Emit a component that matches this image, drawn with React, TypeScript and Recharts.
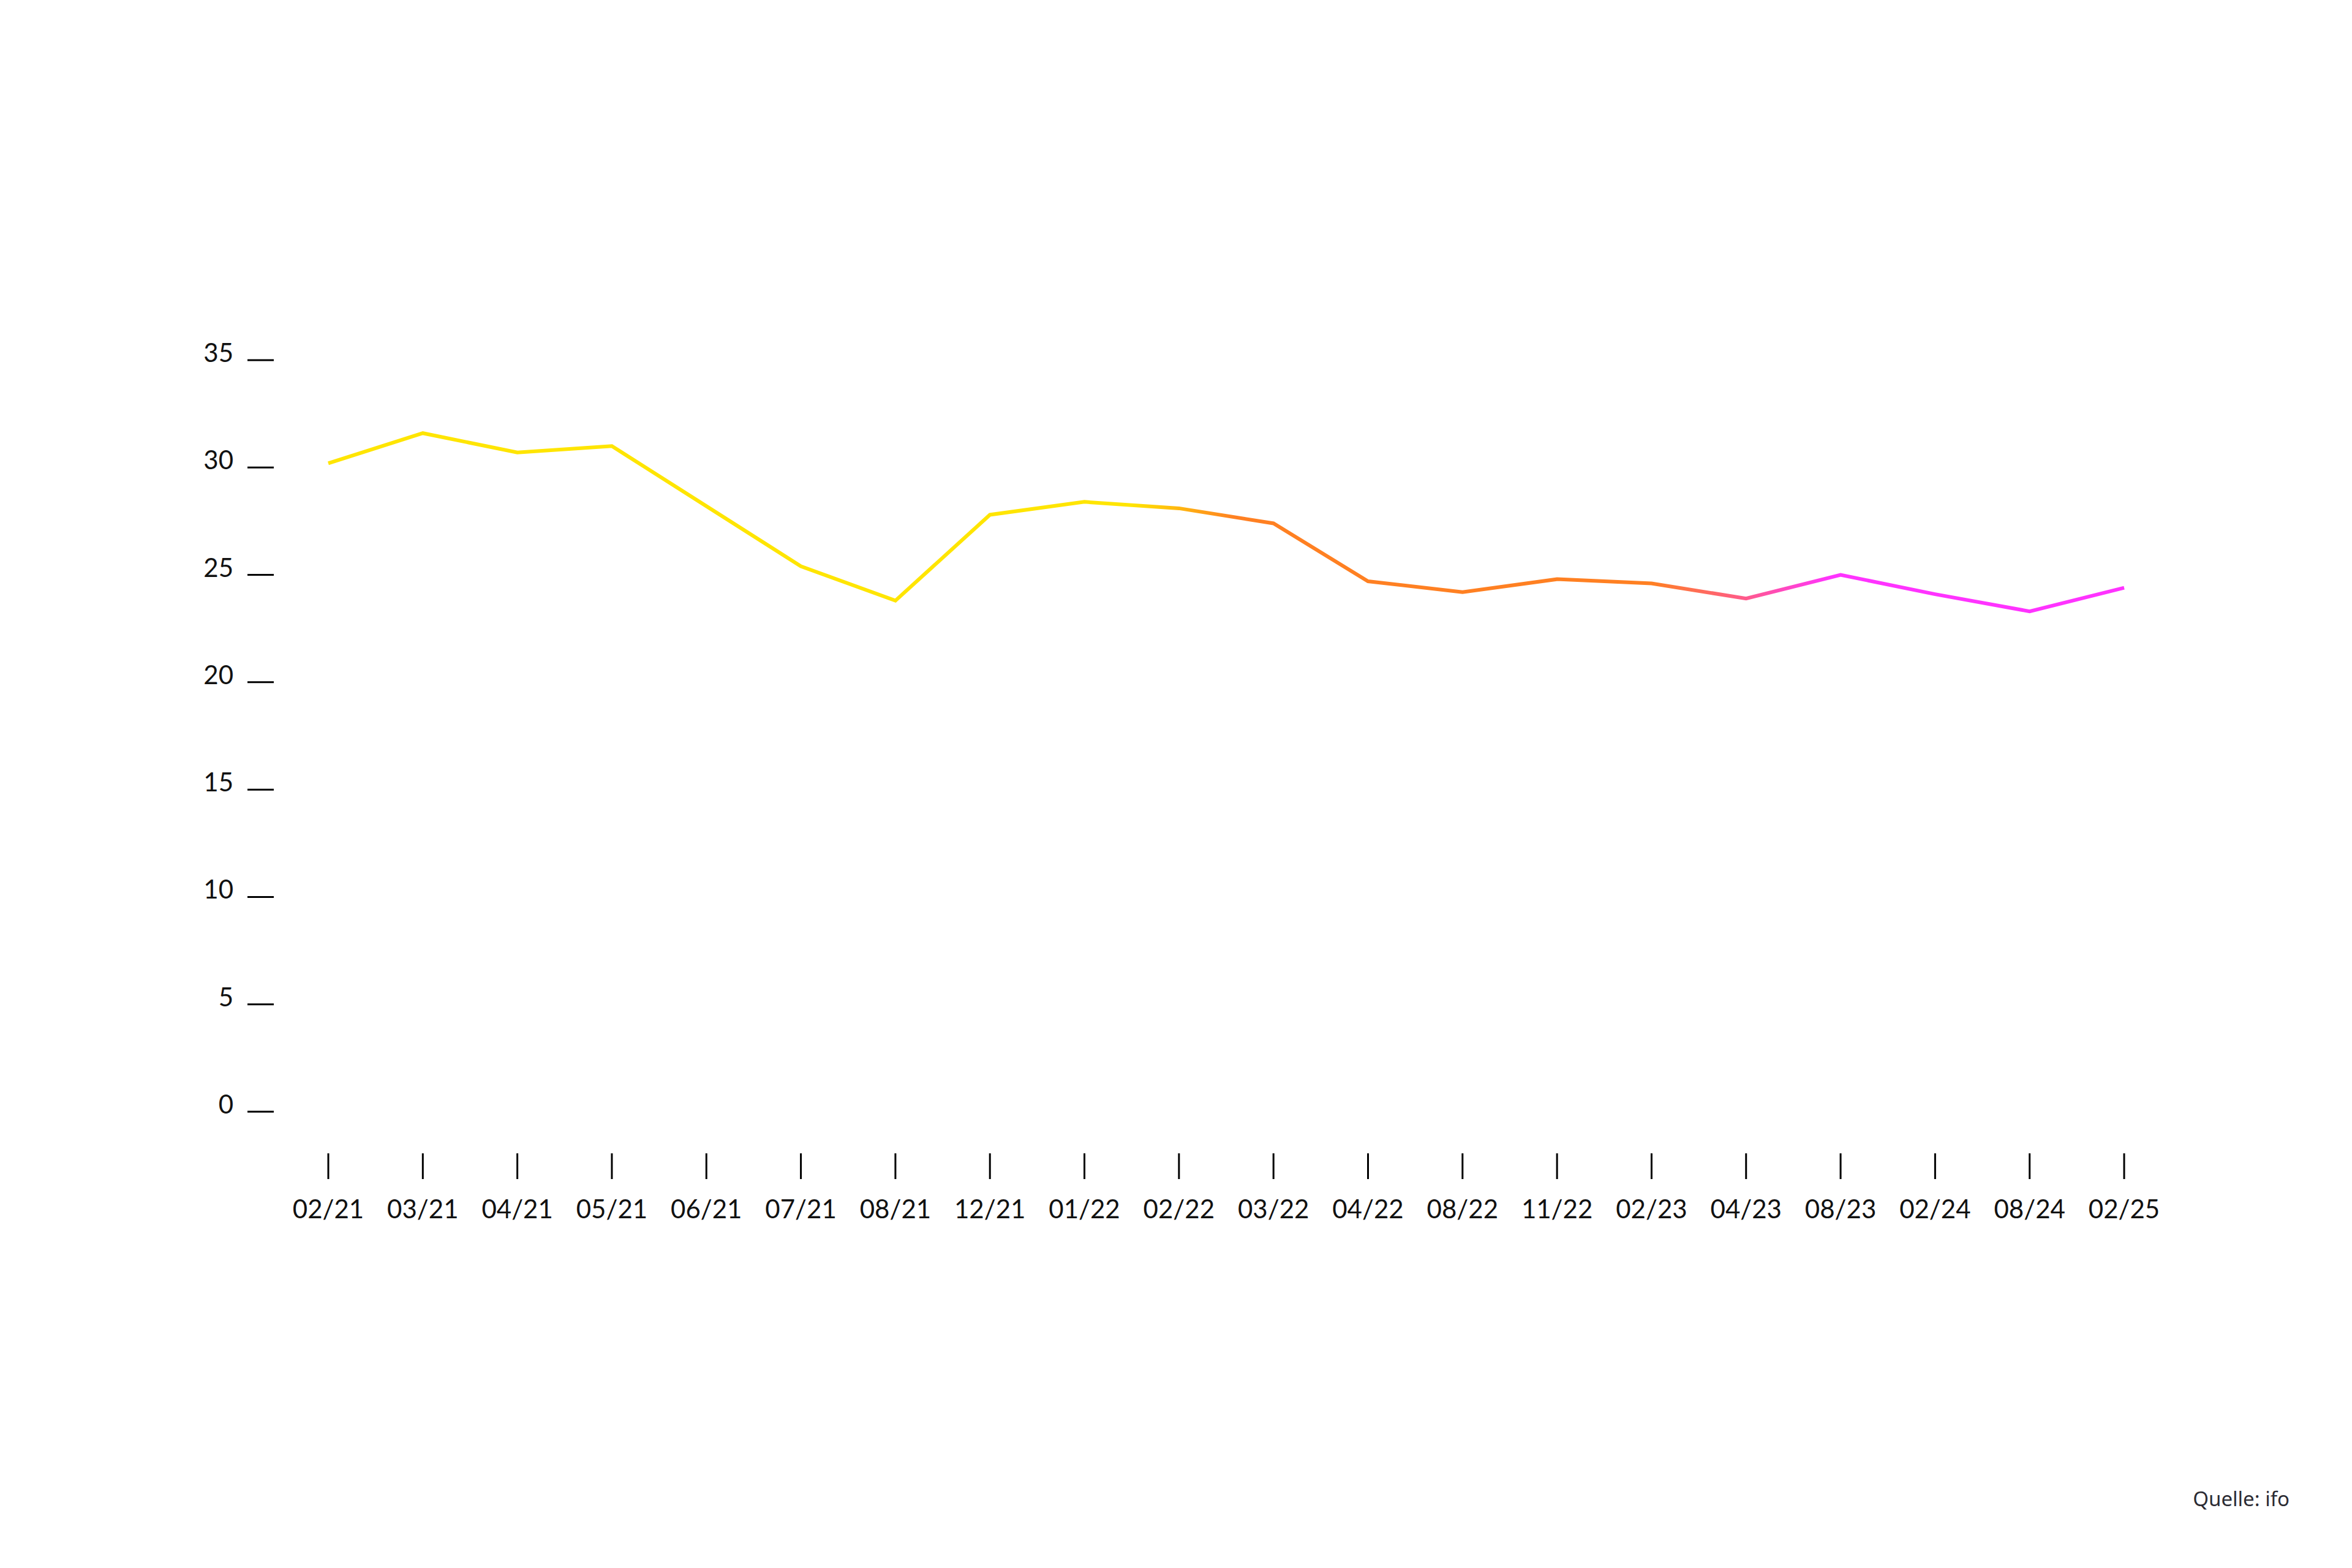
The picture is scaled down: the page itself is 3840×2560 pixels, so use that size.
import { LineChart, Line, XAxis, YAxis } from "recharts";

const months = [
  "02/21", "03/21", "04/21", "05/21", "06/21", "07/21", "08/21", "12/21", "01/22", "02/22",
  "03/22", "04/22", "08/22", "11/22", "02/23", "04/23", "08/23", "02/24", "08/24", "02/25",
];
const share = [
  30.2, 31.6, 30.7, 31.0, 28.2, 25.4, 23.8, 27.8, 28.4, 28.1,
  27.4, 24.7, 24.2, 24.8, 24.6, 23.9, 25.0, 24.1, 23.3, 24.4,
];
const yTicks = [0, 5, 10, 15, 20, 25, 30, 35];

const data = months.map((m, i) => ({ month: m, value: share[i] }));

const FONT = "Lato, 'Open Sans', sans-serif";

function YTick({ x, y, payload }: any) {
  return (
    <text x={x} y={y + 3} textAnchor="end" fontSize={42} fontFamily={FONT} fill="#111">
      {payload.value}
    </text>
  );
}

function XTick({ x, y, payload }: any) {
  return (
    <text x={x} y={y + 64} textAnchor="middle" fontSize={42} fontFamily={FONT} fill="#111">
      {payload.value}
    </text>
  );
}

export default function App() {
  return (
    <div
      style={{
        position: "absolute",
        left: 0,
        top: 0,
        width: 3840,
        height: 2560,
        background: "#fff",
      }}
    >
      <LineChart
        width={3840}
        height={2560}
        data={data}
        margin={{ top: 588, right: 283, bottom: 577, left: 327 }}
      >
        <defs>
          <linearGradient id="lineGrad" x1="0" y1="0" x2="1" y2="0">
            <stop offset="0" stopColor="#FFE500" />
            <stop offset="0.447" stopColor="#FFE500" />
            <stop offset="0.505" stopColor="#FF8022" />
            <stop offset="0.737" stopColor="#FF8022" />
            <stop offset="0.789" stopColor="#FF5A8C" />
            <stop offset="0.837" stopColor="#FF33FF" />
            <stop offset="1" stopColor="#FF33FF" />
          </linearGradient>
        </defs>
        <XAxis
          dataKey="month"
          interval={0}
          axisLine={false}
          tickLine={{ stroke: "#000", strokeWidth: 3 }}
          tickSize={42}
          tickMargin={0}
          height={100}
          padding={{ left: 89, right: 89 }}
          tick={<XTick />}
        />
        <YAxis
          domain={[0, 35]}
          ticks={yTicks}
          interval={0}
          axisLine={false}
          tickLine={{ stroke: "#000", strokeWidth: 3 }}
          tickSize={43}
          tickMargin={23}
          width={120}
          padding={{ top: 0, bottom: 68 }}
          tick={<YTick />}
        />
        <Line
          type="linear"
          dataKey="value"
          stroke="url(#lineGrad)"
          strokeWidth={6}
          dot={false}
          activeDot={false}
          isAnimationActive={false}
        />
      </LineChart>
      <div
        style={{
          position: "absolute",
          right: 102,
          top: 2430,
          fontFamily: "'Noto Sans', sans-serif",
          fontSize: 33,
          lineHeight: "34px",
          color: "#2b2b33",
        }}
      >
        Quelle: ifo
      </div>
    </div>
  );
}
